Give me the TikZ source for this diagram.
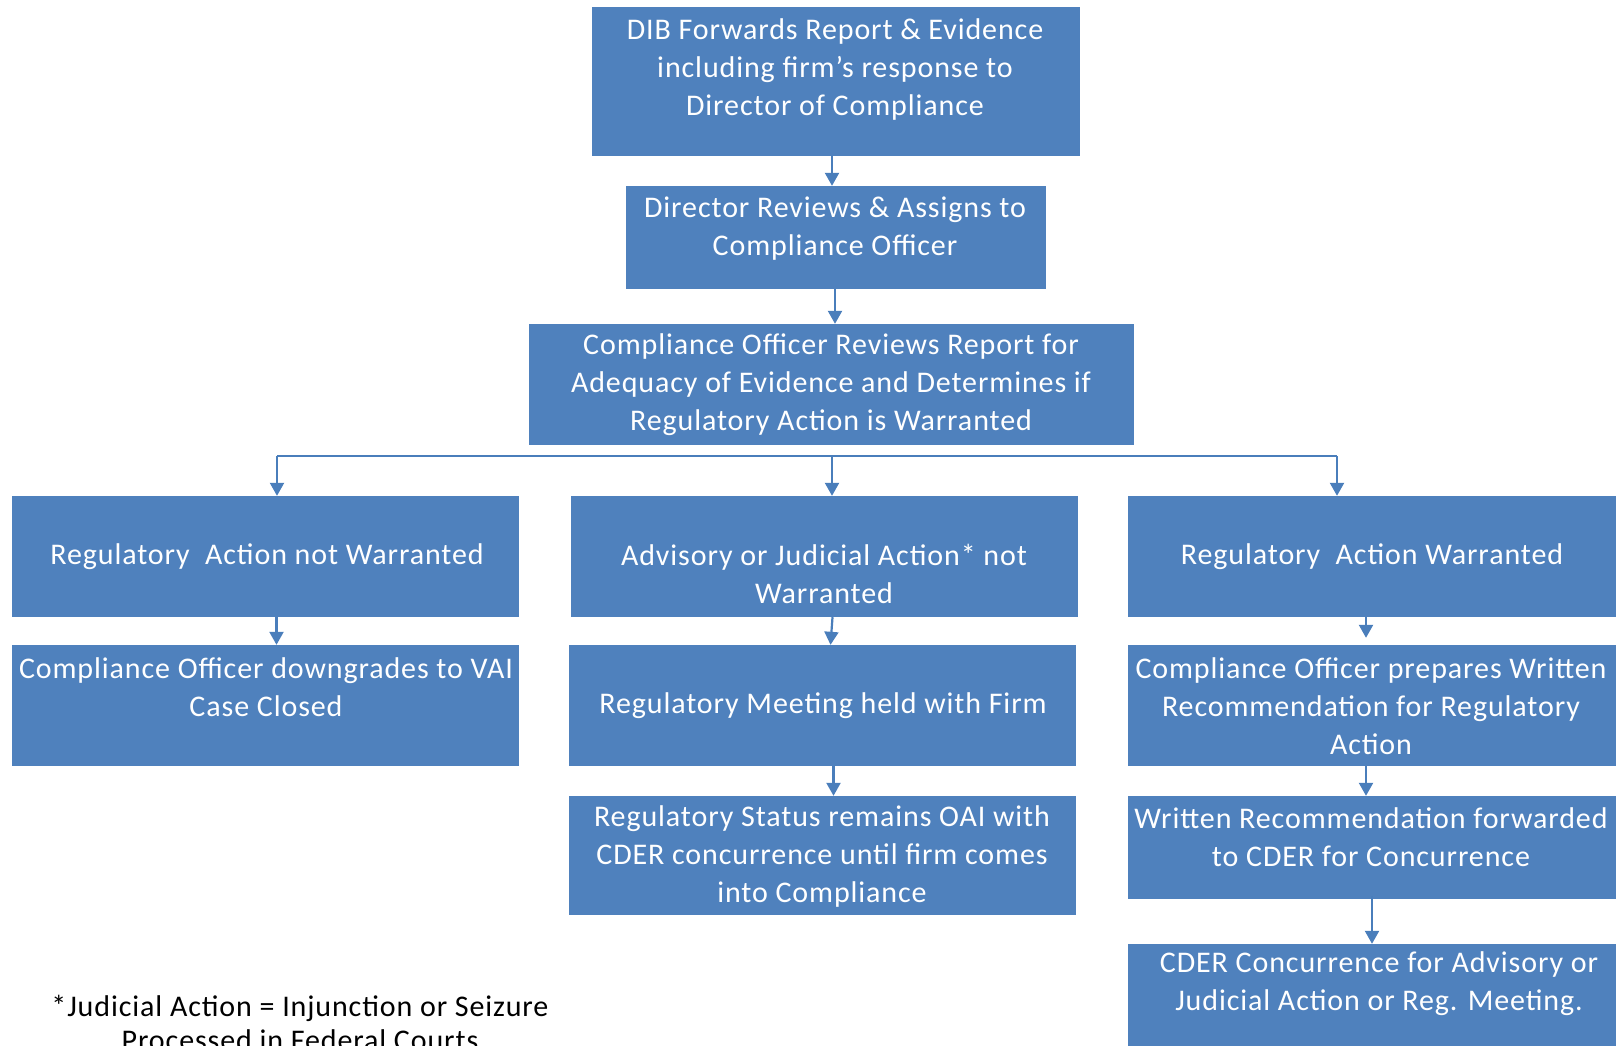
\documentclass[tikz,border=0pt]{standalone}
\usepackage{fontspec}
\setmainfont{Carlito}[LetterSpace=3]
\usetikzlibrary{arrows.meta,fit}
\definecolor{boxblue}{HTML}{4F81BD}
\definecolor{linkblue}{HTML}{4A7EBB}
\begin{document}
\begin{tikzpicture}[x=1pt,y=-1pt,
  box/.style={fill=boxblue, draw=none, inner sep=0pt},
  txt/.style={text=white, align=center, inner sep=0pt, font=\fontsize{30}{38}\selectfont},
  note/.style={text=black, align=center, inner sep=0pt, font=\fontsize{30}{34}\selectfont},
  arr/.style={draw=linkblue, line width=2.2pt, -{Triangle[width=14pt,length=13pt]}},
  bar/.style={draw=linkblue, line width=2.2pt}]
\useasboundingbox (0,0) rectangle (1621,1045);
\clip (0,0) rectangle (1621,1045);
% boxes
\node[box, fit={(592,7) (1080,156)}] (b1) {};
\node[box, fit={(626,186) (1046,289)}] (b2) {};
\node[box, fit={(529,324) (1134,445)}] (b3) {};
\node[box, fit={(12,496) (519,617)}] (l1) {};
\node[box, fit={(571,496) (1078,617)}] (m1) {};
\node[box, fit={(1128,496) (1616,617)}] (r1) {};
\node[box, fit={(12,645) (519,766)}] (l2) {};
\node[box, fit={(569,645) (1076,766)}] (m2) {};
\node[box, fit={(1128,645) (1616,766)}] (r2) {};
\node[box, fit={(569,796) (1076,915)}] (m3) {};
\node[box, fit={(1128,796) (1616,899)}] (r3) {};
\node[box, fit={(1128,944) (1616,1050)}] (r4) {};
% texts
\node[txt] (t1) at (835,69) {DIB Forwards Report \& Evidence\\including firm’s response to\\Director of Compliance};
\node[txt] (t2) at (835,229) {Director Reviews \& Assigns to\\Compliance Officer};
\node[txt] (t3) at (831,385) {Compliance Officer Reviews Report for\\Adequacy of Evidence and Determines if\\Regulatory Action is Warranted};
\node[txt] (tl1) at (267,557) {Regulatory\ \ Action not Warranted};
\node[txt] (tm1) at (824,574) {Advisory or Judicial Action* not\\Warranted};
\node[txt] (tr1) at (1372,557) {Regulatory\ \ Action Warranted};
\node[txt] (tl2) at (266,687) {Compliance Officer downgrades to VAI\\Case Closed};
\node[txt] (tm2) at (823,706) {Regulatory Meeting held with Firm};
\node[txt] (tr2) at (1371,706) {Compliance Officer prepares Written\\Recommendation for Regulatory\\Action};
\node[txt] (tm3) at (822,856) {Regulatory Status remains OAI with\\CDER concurrence until firm comes\\into Compliance};
\node[txt] (tr3) at (1371,837) {Written Recommendation forwarded\\to CDER for Concurrence};
\node[txt] (tr4) at (1379,984) {CDER Concurrence for Advisory or\\Judicial Action or Reg. Meeting.};
\node[note] (fn) at (300,1023) {*Judicial Action = Injunction or Seizure\\Processed in Federal Courts};
% connectors
\draw[arr] ([xshift=-4pt]b1.south) -- ([xshift=-4pt]b2.north);
\draw[arr] ([xshift=-1pt]b2.south) -- ([xshift=-1pt]b2.south |- b3.north);
\coordinate (barL) at (277,456);
\coordinate (barM) at (832,456);
\coordinate (barR) at (1337,456);
\draw[bar] (barL) -- (barR);
\draw[arr] (barL) -- (barL |- l1.north);
\draw[arr] (barM) -- (barM |- m1.north);
\draw[arr] (barR) -- (barR |- r1.north);
\draw[arr] ([xshift=11pt]l1.south) -- ([xshift=11pt]l2.north);
\draw[arr] ([xshift=8pt]m1.south) -- ([xshift=8pt]m2.north);
\draw[arr] ([xshift=-6pt]r1.south) -- ([xshift=-6pt,yshift=7pt]r2.north);
\draw[arr] ([xshift=11pt]m2.south) -- ([xshift=11pt]m3.north);
\draw[arr] ([xshift=-6pt]r2.south) -- ([xshift=-6pt]r3.north);
\draw[arr] ([xshift=0pt,yshift=3pt]r3.south) -- (r3.south |- r4.north);
\end{tikzpicture}
\end{document}
